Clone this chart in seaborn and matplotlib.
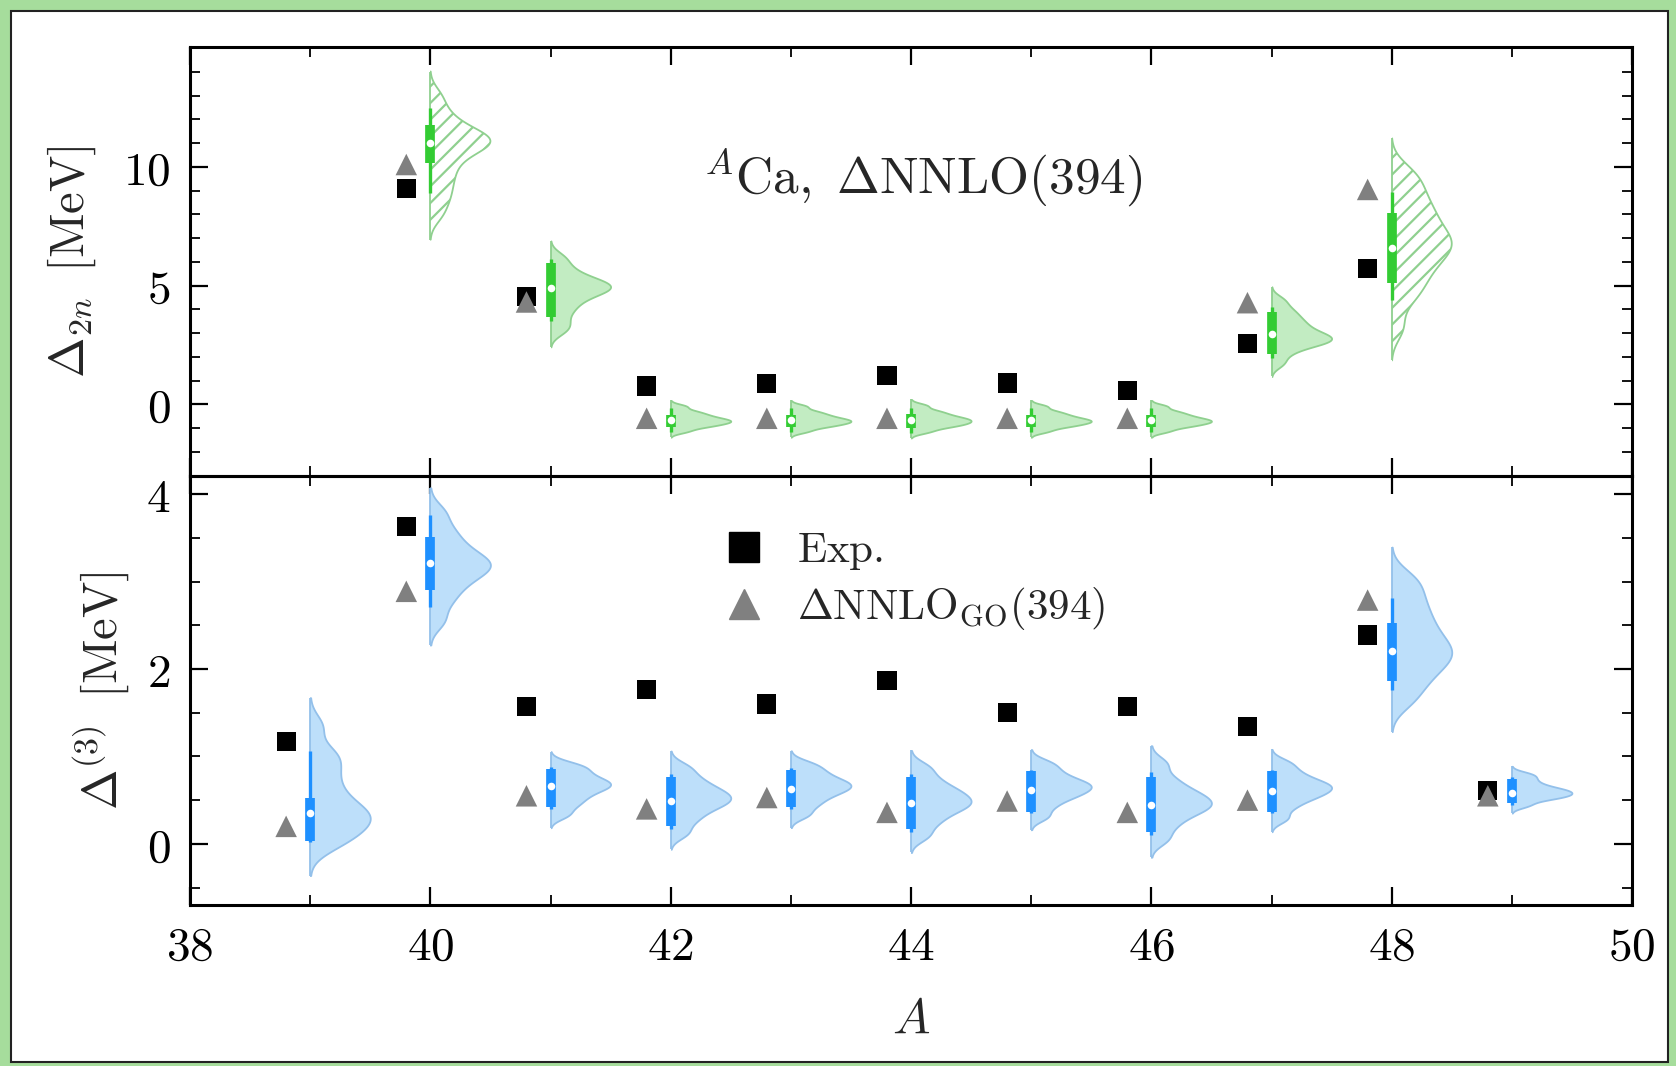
import numpy as np
import pandas as pd
import matplotlib
matplotlib.use("Agg")
import matplotlib.pyplot as plt
from matplotlib.patches import Rectangle
from matplotlib.lines import Line2D
from matplotlib.ticker import MultipleLocator, FixedLocator, FuncFormatter
import seaborn as sns

# ---------------- data: top panel (Delta_2n, MeV) ----------------
A_top = [40, 41, 42, 43, 44, 45, 46, 47, 48]
exp_top = [9.10, 4.53, 0.77, 0.86, 1.22, 0.90, 0.59, 2.57, 5.72]
go_top = [10.10, 4.31, -0.59, -0.59, -0.59, -0.59, -0.59, 4.28, 9.05]

# representative posterior samples
top_s40 = [7.95, 8.5, 8.9, 9.3, 9.65, 10.0, 10.3, 10.55, 10.75, 10.9, 11.0,
           11.1, 11.2, 11.35, 11.5, 11.7, 12.0, 12.4, 13.0]
top_s41 = [3.1, 3.45, 3.85, 4.15, 4.4, 4.6, 4.75, 4.85, 4.95, 5.05, 5.15, 5.3,
           5.5, 5.8, 6.2]
top_s42 = [-1.14, -0.98, -0.9, -0.83, -0.77, -0.72, -0.67, -0.62, -0.55, -0.47,
           -0.38, -0.27, -0.08]
top_s43 = [-1.14, -0.98, -0.9, -0.83, -0.77, -0.72, -0.67, -0.62, -0.55, -0.47,
           -0.38, -0.27, -0.08]
top_s44 = [-1.16, -1.0, -0.91, -0.84, -0.78, -0.72, -0.66, -0.61, -0.54, -0.46,
           -0.36, -0.25, -0.05]
top_s45 = [-1.14, -0.98, -0.9, -0.83, -0.77, -0.72, -0.67, -0.62, -0.55, -0.47,
           -0.38, -0.27, -0.08]
top_s46 = [-1.14, -0.98, -0.9, -0.83, -0.77, -0.72, -0.67, -0.62, -0.55, -0.47,
           -0.38, -0.27, -0.08]
top_s47 = [1.72, 2.1, 2.35, 2.5, 2.6, 2.68, 2.75, 2.83, 2.92, 3.02, 3.15, 3.3,
           3.45, 3.62, 3.82, 4.05, 4.4]
top_s48 = [3.2, 4.3, 4.8, 5.2, 5.6, 5.9, 6.2, 6.45, 6.65, 6.85, 7.05, 7.3, 7.6,
           7.9, 8.2, 8.55, 8.95, 9.4, 9.85]

top_med = [11.0, 4.89, -0.67, -0.67, -0.67, -0.67, -0.67, 2.95, 6.59]
top_q1 = [10.16, 3.67, -0.96, -0.96, -0.98, -0.96, -0.96, 2.10, 5.10]
top_q3 = [11.76, 5.94, -0.46, -0.46, -0.42, -0.46, -0.46, 3.90, 8.05]
top_wlo = [8.90, 3.50, -1.17, -1.17, -1.20, -1.17, -1.17, 1.94, 4.38]
top_whi = [12.48, 6.10, -0.17, -0.17, -0.14, -0.17, -0.17, 4.10, 8.95]
top_hatched = [40, 48]

# ---------------- data: bottom panel (Delta^(3), MeV) ----------------
A_bot = [39, 40, 41, 42, 43, 44, 45, 46, 47, 48, 49]
exp_bot = [1.17, 3.63, 1.57, 1.77, 1.60, 1.87, 1.50, 1.57, 1.34, 2.39, 0.61]
go_bot = [0.20, 2.89, 0.55, 0.40, 0.53, 0.36, 0.49, 0.36, 0.50, 2.79, 0.55]

bot_s39 = [-0.04, 0.06, 0.13, 0.2, 0.26, 0.31, 0.36, 0.42, 0.5, 0.6, 0.72,
           0.85, 0.97, 1.07, 1.35]
bot_s40 = [2.55, 2.75, 2.88, 2.98, 3.06, 3.12, 3.17, 3.21, 3.26, 3.32, 3.4,
           3.5, 3.62, 3.8]
bot_s41 = [0.33, 0.43, 0.5, 0.56, 0.61, 0.65, 0.68, 0.71, 0.75, 0.8, 0.86,
           0.91]
bot_s42 = [0.12, 0.25, 0.34, 0.41, 0.46, 0.5, 0.54, 0.58, 0.63, 0.69, 0.77,
           0.88]
bot_s43 = [0.33, 0.43, 0.5, 0.56, 0.6, 0.64, 0.67, 0.7, 0.74, 0.79, 0.85, 0.92]
bot_s44 = [0.09, 0.22, 0.31, 0.38, 0.43, 0.47, 0.51, 0.56, 0.61, 0.67, 0.76,
           0.88]
bot_s45 = [0.31, 0.42, 0.5, 0.55, 0.59, 0.63, 0.66, 0.69, 0.73, 0.78, 0.85,
           0.93]
bot_s46 = [0.05, 0.19, 0.29, 0.36, 0.41, 0.45, 0.49, 0.54, 0.59, 0.66, 0.76,
           0.92]
bot_s47 = [0.29, 0.41, 0.49, 0.54, 0.58, 0.62, 0.65, 0.68, 0.72, 0.77, 0.84,
           0.93]
bot_s48 = [1.62, 1.78, 1.9, 2.0, 2.08, 2.15, 2.21, 2.28, 2.36, 2.45, 2.55,
           2.66, 2.78, 2.92, 3.06]
bot_s49 = [0.44, 0.5, 0.53, 0.55, 0.57, 0.59, 0.61, 0.63, 0.66, 0.7, 0.75,
           0.8]

bot_med = [0.35, 3.21, 0.66, 0.49, 0.63, 0.47, 0.62, 0.45, 0.60, 2.21, 0.58]
bot_q1 = [0.03, 2.90, 0.42, 0.20, 0.42, 0.17, 0.37, 0.13, 0.37, 1.86, 0.47]
bot_q3 = [0.53, 3.51, 0.86, 0.76, 0.85, 0.76, 0.83, 0.77, 0.83, 2.53, 0.74]
bot_wlo = [0.02, 2.71, 0.40, 0.17, 0.40, 0.14, 0.35, 0.10, 0.35, 1.76, 0.45]
bot_whi = [1.06, 3.76, 0.88, 0.80, 0.87, 0.80, 0.85, 0.82, 0.85, 2.81, 0.76]

# ---------------- style ----------------
FRAME_GREEN = "#a6dd9c"
G_FILL, G_EDGE, G_BOX = "#c2ecc2", "#8fd08f", "#33cc33"
B_FILL, B_EDGE, B_BOX = "#bddffa", "#93c0ea", "#1e90ff"

sns.set_theme(style="ticks")
plt.rcParams["font.family"] = ["DejaVu Serif"]
plt.rcParams["mathtext.fontset"] = "cm"
plt.rcParams["hatch.color"] = G_EDGE
plt.rcParams["hatch.linewidth"] = 1.6

W, H = 1676, 1066
fig = plt.figure(figsize=(W / 100, H / 100), dpi=100, facecolor=FRAME_GREEN)
fig.add_artist(Rectangle((11 / W, 4 / H), (1668 - 11) / W, (1055 - 4) / H,
                         transform=fig.transFigure, facecolor="white",
                         edgecolor="#222222", linewidth=1.5, zorder=-1))

L, R = 190 / W, 1632 / W
ax1 = fig.add_axes([L, 1 - 476 / H, R - L, (476 - 47) / H])
ax2 = fig.add_axes([L, 1 - 905 / H, R - L, (905 - 476) / H])


def draw_half_violins(ax, A, samples, fill, edge, hatched=()):
    """Full seaborn violins, clipped to their right half."""
    df = pd.DataFrame({
        "A": np.repeat(np.asarray(A, float), [len(s) for s in samples]),
        "val": np.concatenate([np.asarray(s, float) for s in samples]),
    })
    n_before = len(ax.collections)
    sns.violinplot(data=df, x="A", y="val", native_scale=True, inner=None,
                   cut=2.5, bw_adjust=0.55, density_norm="width", width=1.0,
                   gridsize=300, color=fill, saturation=1, linecolor=edge,
                   linewidth=1.3, ax=ax)
    for coll in ax.collections[n_before:]:
        paths = coll.get_paths()
        if not paths:
            continue
        verts = paths[0].vertices
        centre = 0.5 * (verts[:, 0].min() + verts[:, 0].max())
        a = min(A, key=lambda v: abs(v - centre))
        y0, y1 = verts[:, 1].min(), verts[:, 1].max()
        clip = Rectangle((a, y0 - 1), 1.0, (y1 - y0) + 2, transform=ax.transData)
        coll.set_clip_path(clip)
        # flat side of the half violin
        ax.vlines(a, y0, y1, colors=edge, linewidth=1.3, zorder=2)
        if a in hatched:
            coll.set_facecolor("none")
            coll.set_hatch("//")
            coll.set_edgecolor(edge)


def draw_boxes(ax, A, wlo, whi, q1, q3, med, color):
    A = np.asarray(A, float)
    ax.vlines(A, wlo, whi, colors=color, linewidth=2.4, zorder=3)
    ax.vlines(A, q1, q3, colors=color, linewidth=7, zorder=3)
    ax.scatter(A, med, s=30, c="white", linewidths=0, zorder=4)


def draw_points(ax, A, exp, go):
    x = np.asarray(A, float) - 0.2
    sns.scatterplot(x=x, y=exp, marker="s", s=190, color="black",
                    edgecolor="none", ax=ax, zorder=5, legend=False)
    sns.scatterplot(x=x, y=go, marker="^", s=240, color="#808080",
                    edgecolor="none", ax=ax, zorder=6, legend=False)


# top panel
draw_half_violins(ax1, A_top, [top_s40, top_s41, top_s42, top_s43, top_s44,
                               top_s45, top_s46, top_s47, top_s48],
                  G_FILL, G_EDGE, hatched=top_hatched)
draw_boxes(ax1, A_top, top_wlo, top_whi, top_q1, top_q3, top_med, G_BOX)
draw_points(ax1, A_top, exp_top, go_top)

# bottom panel
draw_half_violins(ax2, A_bot, [bot_s39, bot_s40, bot_s41, bot_s42, bot_s43,
                               bot_s44, bot_s45, bot_s46, bot_s47, bot_s48,
                               bot_s49], B_FILL, B_EDGE)
draw_boxes(ax2, A_bot, bot_wlo, bot_whi, bot_q1, bot_q3, bot_med, B_BOX)
draw_points(ax2, A_bot, exp_bot, go_bot)

# axes formatting
fmt = FuncFormatter(lambda v, p: f"${v:g}$")
for ax in (ax1, ax2):
    ax.set_facecolor("none")
    ax.set_xlim(38, 50)
    ax.xaxis.set_major_locator(MultipleLocator(2))
    ax.xaxis.set_minor_locator(MultipleLocator(1))
    ax.xaxis.set_major_formatter(fmt)
    ax.yaxis.set_major_formatter(fmt)
    ax.tick_params(which="both", direction="in", top=True, right=True,
                   bottom=True, left=True, labelsize=34, colors="black")
    ax.tick_params(which="major", length=13, width=1.6, pad=14)
    ax.tick_params(which="minor", length=7, width=1.3)
    for sp in ax.spines.values():
        sp.set_linewidth(2.2)
        sp.set_color("black")
        sp.set_visible(True)

ax1.set_ylim(-3.02, 15.05)
ax1.yaxis.set_major_locator(FixedLocator([0, 5, 10]))
ax1.yaxis.set_minor_locator(MultipleLocator(1))
ax1.tick_params(labelbottom=False)
ax1.set_xlabel("")
ax1.set_ylabel(r"$\Delta_{2n}\;\;[\mathrm{MeV}]$", fontsize=35)
ax1.yaxis.label.set_va("center")
ax1.yaxis.set_label_coords(-0.082, 0.5)
ax1.text(44.1, 9.57, r"$^{A}\mathrm{Ca,}\ \Delta\mathrm{NNLO}(394)$",
         fontsize=37, ha="center", va="center")

ax2.set_ylim(-0.7, 4.21)
ax2.yaxis.set_major_locator(FixedLocator([0, 2, 4]))
ax2.yaxis.set_minor_locator(MultipleLocator(0.5))
ax2.set_ylabel(r"$\Delta^{(3)}\;\;[\mathrm{MeV}]$", fontsize=35)
ax2.yaxis.label.set_va("center")
ax2.yaxis.set_label_coords(-0.062, 0.5)
ax2.set_xlabel(r"$A$", fontsize=36, labelpad=18)

handles = [
    Line2D([], [], ls="none", marker="s", color="black", markersize=21,
           label=r"$\mathrm{Exp.}$"),
    Line2D([], [], ls="none", marker="^", color="#808080", markersize=21,
           label=r"$\Delta\mathrm{NNLO}_{\mathrm{GO}}(394)$"),
]
ax2.legend(handles=handles, loc="center left", bbox_to_anchor=(0.372, 0.757),
           frameon=False, fontsize=31, handlelength=0.8, handletextpad=0.85,
           labelspacing=0.3, borderpad=0, borderaxespad=0)

fig.savefig("out.png", dpi=100, facecolor=FRAME_GREEN)
